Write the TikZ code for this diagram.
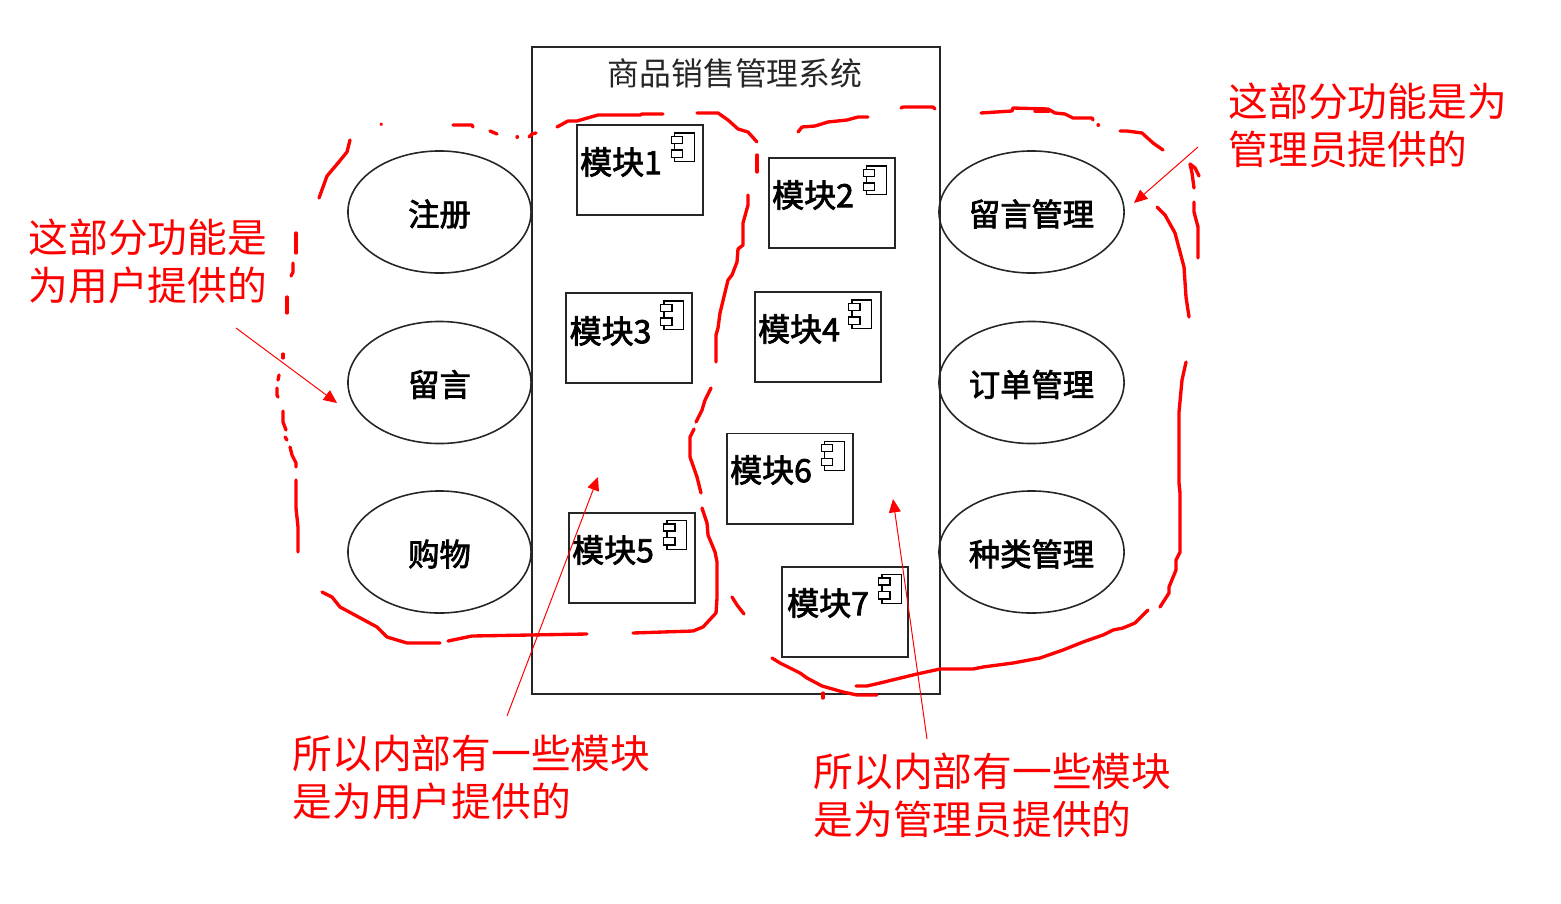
\documentclass[tikz,border=0pt]{standalone}
\usepackage{fontspec}
\setmainfont{Noto Sans CJK SC}
\newfontfamily\medfont[FakeBold=2.4]{Noto Sans CJK SC}
\usetikzlibrary{arrows.meta,shapes.geometric}
\definecolor{inkred}{RGB}{255,0,0}
\newcommand{\uclabel}[1]{#1\hspace{1pt}}
\tikzset{
	sysbox/.style={draw=black!85,line width=0.55pt},
	usecase/.style={draw=black!85,line width=0.45pt,ellipse,minimum width=1.83cm,minimum height=1.22cm,inner sep=0pt,text height=9pt,text depth=1.1pt,font=\fontsize{8.9}{10}\medfont},
	modbox/.style={draw=black!85,line width=0.55pt,minimum width=1.26cm,minimum height=0.9cm,inner sep=0pt},
	modtext/.style={font=\fontsize{9.1}{10}\medfont,inner sep=0pt},
	titletext/.style={font=\fontsize{9.04}{10}\selectfont,text=black!85,inner sep=0pt},
	redtext/.style={font=\fontsize{11.3}{13.65}\selectfont,text=inkred,align=left,anchor=west,inner sep=0pt},
	redline/.style={draw=inkred,line width=0.95pt,line cap=round,line join=round},
	notearrow/.style={draw=inkred,line width=0.28pt,-{Triangle[length=3.8pt,width=3.4pt,fill=inkred]}},
	iconpart/.style={draw=black,line width=0.38pt,fill=white},
	modicon/.pic={
		\draw[iconpart] (-29.2,9) rectangle (-9.5,37.7);
		\draw[iconpart] (-32.5,12.3) rectangle (-21.2,19.3);
		\draw[iconpart] (-32.5,26) rectangle (-21.2,33.3);
	}
}
\begin{document}
\begin{tikzpicture}[x=0.01cm,y=-0.01cm]
	\useasboundingbox (0,0) rectangle (1561,903);
	% system frame
	\draw[sysbox] (532,47) rectangle (940,694);
	\node[titletext] (title) at (735,73) {商品销售管理系统};
	% use cases
	\node[usecase] (reg) at (439.5,212) {\uclabel{注册}};
	\node[usecase] (msg) at (439.5,382.5) {\uclabel{留言}};
	\node[usecase] (buy) at (439.5,552) {\uclabel{购物}};
	\node[usecase,minimum width=1.85cm] (msgadm) at (1031.5,212) {\uclabel{留言管理}};
	\node[usecase,minimum width=1.85cm] (ordadm) at (1031.5,382.5) {\uclabel{订单管理}};
	\node[usecase,minimum width=1.85cm] (catadm) at (1031.5,552) {\uclabel{种类管理}};
	% modules
	\node[modbox] (m1) at (639.7,170) {};
	\node[modbox] (m2) at (831.7,203) {};
	\node[modbox] (m3) at (629.2,338) {};
	\node[modbox] (m4) at (818.2,337) {};
	\node[modbox] (m5) at (632.2,557.6) {};
	\node[modbox] (m6) at (789.8,478.5) {};
	\node[modbox] (m7) at (845.2,611.6) {};
	\node[modtext] (t1) at (621,162) {模块1};
	\node[modtext] (t2) at (813,195) {模块2};
	\node[modtext] (t3) at (610.5,331) {模块3};
	\node[modtext] (t4) at (799,329) {模块4};
	\node[modtext] (t5) at (613,550) {模块5};
	\node[modtext] (t6) at (771,470) {模块6};
	\node[modtext] (t7) at (828,603) {模块7};
	\pic at (m1.north east) {modicon};
	\pic at (m2.north east) {modicon};
	\pic at (m3.north east) {modicon};
	\pic[shift={(-1,0)}] at (m4.north east) {modicon};
	\pic at (m5.north east) {modicon};
	\pic at (m6.north east) {modicon};
	\pic[shift={(2,0)}] at (m7.north east) {modicon};
	% notes
	\node[redtext] (n1) at (28,261) {这部分功能是\\为用户提供的};
	\node[redtext] (n2) at (1228,125) {这部分功能是为\\管理员提供的};
	\node[redtext] (n3) at (292,777) {所以内部有一些模块\\是为用户提供的};
	\node[redtext] (n4) at (813,795) {所以内部有一些模块\\是为管理员提供的};
	\coordinate (a1) at (236,328);
	\coordinate (a2) at (337,403);
	\coordinate (b1) at (1198,147);
	\coordinate (b2) at (1134,203);
	\coordinate (c1) at (507,716);
	\coordinate (c2) at (598,477);
	\coordinate (d1) at (927,739);
	\coordinate (d2) at (893,499);
	\draw[notearrow] (a1) -- (a2);
	\draw[notearrow] (b1) -- (b2);
	\draw[notearrow] (c1) -- (c2);
	\draw[notearrow] (d1) -- (d2);
	% left hand ring
	\draw[redline] (350,140) -- (347,152) -- (338,163) -- (327,176) -- (323,187) -- (319,198);
	\draw[redline] (381,124) -- (381.5,124.5);
	\draw[redline] (453,125) -- (472,125) -- (473,127);
	\draw[redline] (490,131) -- (497,134);
	\draw[redline] (517,137) -- (517.5,137);
	\draw[redline] (529,137) -- (532,134) -- (536,133);
	\draw[redline] (557,127) -- (568,121) -- (577,121) -- (598,115) -- (640,115) -- (642,114) -- (663,114);
	\draw[redline] (697,113) -- (718,113) -- (728,120) -- (738,129) -- (748,132) -- (757,142);
	\draw[redline] (757,155) -- (757,172);
	\draw[redline] (748,195) -- (748,205) -- (743,223) -- (743,245) -- (738,249) -- (737,262) -- (732,275) -- (728,280) -- (720,313) -- (718,328) -- (716,335) -- (716,362);
	\draw[redline] (711,388) -- (705,400) -- (702,410) -- (696,422);
	\draw[redline] (694,429) -- (690,437) -- (690,457) -- (697,477) -- (701,493);
	\draw[redline] (702,508) -- (707,523) -- (708,535) -- (715,552) -- (717,562) -- (717,598) -- (716,613) -- (703,627) -- (693,631) -- (633,633);
	\draw[redline] (587,634) -- (472,636) -- (448,641);
	\draw[redline] (440,643) -- (407,643) -- (387,637) -- (377,627) -- (340,607) -- (332,597) -- (322,592);
	\draw[redline] (296,233) -- (296,253);
	\draw[redline] (293,263) -- (293,272) -- (291,276);
	\draw[redline] (287,297) -- (287,313);
	\draw[redline] (283,354) -- (283,358);
	\draw[redline] (279,375) -- (278,380);
	\draw[redline] (277,388) -- (277,395) -- (278,397);
	\draw[redline] (283,411) -- (283,422) -- (286,430);
	\draw[redline] (285,437) -- (287,440);
	\draw[redline] (290,447) -- (292,455) -- (296,463) -- (296,467);
	\draw[redline] (296,480) -- (296,508) -- (298,527) -- (298,552);
	% right hand ring
	\draw[redline] (732,597) -- (737,605) -- (744,614);
	\draw[redline] (798,132) -- (802,127) -- (815,126) -- (828,122) -- (847,120) -- (858,117) -- (868,117);
	\draw[redline] (901,108) -- (903,107) -- (933,107) -- (935,109);
	\draw[redline] (981,113) -- (1012,111) -- (1013,108) -- (1048,109) -- (1055,113) -- (1065,114) -- (1073,118) -- (1092,118) -- (1093,120);
	\draw[redline] (1035,111) -- (1049,111);
	\draw[redline] (1098,125) -- (1098.5,125);
	\draw[redline] (1120,131) -- (1127,131) -- (1142,133) -- (1153,143) -- (1163,150);
	\draw[redline] (1199,176) -- (1195,168) -- (1190,164) -- (1192,173) -- (1194,188);
	\draw[redline] (1194,202) -- (1194,212) -- (1198,227) -- (1198,258);
	\draw[redline] (1157,207) -- (1165,215) -- (1175,233) -- (1184,267) -- (1186,297) -- (1189,317);
	\draw[redline] (1186,362) -- (1182,380) -- (1179,412) -- (1179,483) -- (1180,493) -- (1180,552) -- (1176,560) -- (1176,570) -- (1169,587) -- (1169,593) -- (1160,607);
	\draw[redline] (1148,610) -- (1135,623) -- (1123,628) -- (1113,630) -- (1103,635) -- (1083,642) -- (1063,650) -- (1040,658) -- (1013,663) -- (983,667) -- (973,669) -- (940,669) -- (917,674) -- (880,683) -- (867,686) -- (856,686);
	\draw[redline] (772,658) -- (780,663) -- (800,673) -- (807,678) -- (822,686) -- (843,692) -- (857,695) -- (877,695);
	\draw[redline] (823,693) -- (823,698);
\end{tikzpicture}
\end{document}
